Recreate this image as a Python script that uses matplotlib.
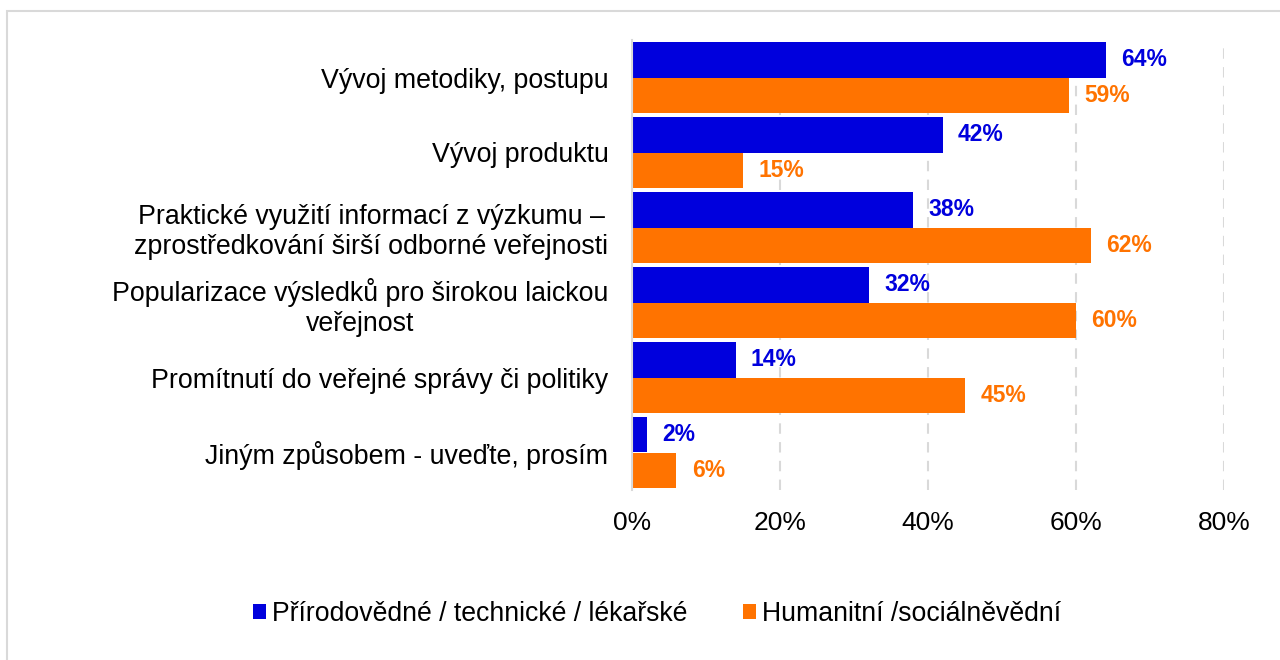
import matplotlib
matplotlib.use("Agg")
import matplotlib.pyplot as plt
from matplotlib.patches import Rectangle
import numpy as np

categories = [
    "Vývoj metodiky, postupu",
    "Vývoj produktu",
    "Praktické využití informací z výzkumu –\nzprostředkování širší odborné veřejnosti",
    "Popularizace výsledků pro širokou laickou\nveřejnost",
    "Promítnutí do veřejné správy či politiky",
    "Jiným způsobem - uveďte, prosím",
]
series_names = ["Přírodovědné / technické / lékařské", "Humanitní /sociálněvědní"]
prirodovedne = [64, 42, 38, 32, 14, 2]
humanitni = [59, 15, 62, 60, 45, 6]
x_ticks = [0, 20, 40, 60, 80]

blue = "#0000DD"
orange = "#FF7300"

plt.rcParams['font.family'] = ['Liberation Sans', 'DejaVu Sans']

fig = plt.figure(figsize=(12.8, 6.6), dpi=100)
fig.patches.append(Rectangle((7/1280, -0.2), 1.2, 1.2 - 11/660, transform=fig.transFigure,
                             fill=False, edgecolor="#D9D9D9", linewidth=1.5, zorder=0))

ax = fig.add_axes([632/1280, 1 - 490/660, (1224 - 632)/1280, 450/660])
n = len(categories)
y = np.arange(n)
h = 0.467
off = h / 2
ax.barh(y - off, prirodovedne, height=h, color=blue, zorder=3, label=series_names[0])
ax.barh(y + off, humanitni, height=h, color=orange, zorder=3, label=series_names[1])

ax.set_ylim(n - 0.5, -0.5)
ax.set_xlim(0, 80)
ax.set_xticks(x_ticks)
ax.set_xticklabels([f"{t}%" for t in x_ticks], fontsize=19)
ax.set_yticks(y)
ax.set_yticklabels(categories, fontsize=19.3, multialignment='center')
ax.tick_params(axis='both', length=0)
ax.tick_params(axis='x', pad=15)
ax.tick_params(axis='y', pad=17)

for s in ['top', 'right', 'bottom']:
    ax.spines[s].set_visible(False)
ax.spines['left'].set_color('#D9D9D9')
ax.spines['left'].set_linewidth(1.5)
ax.spines['left'].set_zorder(4)
ax.xaxis.grid(True, linestyle=(0, (5, 4)), color='#D9D9D9', linewidth=1.5, zorder=0)
ax.set_axisbelow(True)

for i in range(n):
    ax.annotate(f"{prirodovedne[i]}%", (prirodovedne[i], y[i] - off),
                xytext=(11, 0), textcoords='offset points', va='center', ha='left',
                color=blue, fontsize=16.5, fontweight='bold',
                family=['Liberation Sans Narrow', 'Liberation Sans'])
    ax.annotate(f"{humanitni[i]}%", (humanitni[i], y[i] + off),
                xytext=(11, 0), textcoords='offset points', va='center', ha='left',
                color=orange, fontsize=16.5, fontweight='bold',
                family=['Liberation Sans Narrow', 'Liberation Sans'])

leg = fig.legend(loc='center', bbox_to_anchor=(657/1280, 1 - 614/660), ncol=2, frameon=False,
                 fontsize=19.2, handlelength=0.5, handleheight=0.5, handletextpad=0.2,
                 columnspacing=2.1)

fig.savefig("out.png", dpi=100)
